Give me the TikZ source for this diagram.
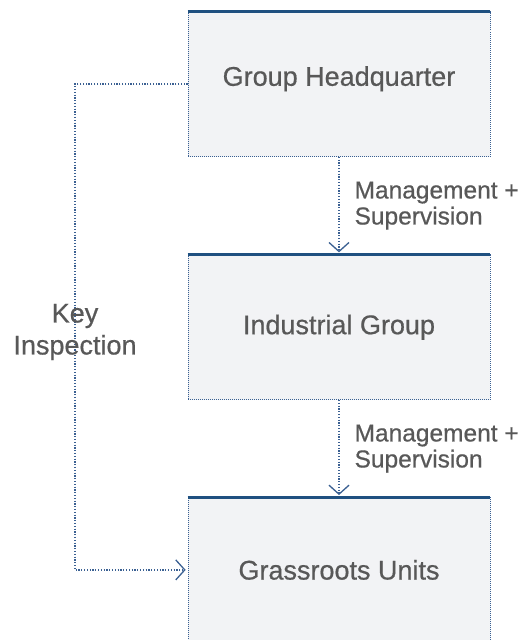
\documentclass[tikz,border=0pt]{standalone}
\usepackage{fontspec}
\setmainfont{Liberation Sans}[FakeBold=0.6]
\usetikzlibrary{arrows.meta, positioning}
\definecolor{org-bar}{RGB}{31,80,128}
\definecolor{org-line}{RGB}{58,96,146}
\definecolor{org-fill}{RGB}{242,243,245}
\definecolor{org-text}{RGB}{88,88,88}

\begin{document}
\begin{tikzpicture}[
    x=1pt, y=-1pt,
    unit/.style={rectangle, draw=org-line, line width=0.7pt, dash pattern=on 1pt off 1pt, fill=org-fill, minimum width=302pt, minimum height=145pt, inner sep=0pt, text=org-text, font=\fontsize{27}{32}\selectfont},
    topbar/.style={draw=org-bar, line width=3pt},
    link/.style={draw=org-line, line width=1.2pt, dash pattern=on 1.2pt off 1.6pt},
    arrow/.style={link, -{Straight Barb[length=9pt, width=20pt, line width=1.3pt]}, shorten >=2pt},
    tag/.style={text=org-text, inner sep=0pt, font=\fontsize{24.5}{26}\selectfont}
]
\useasboundingbox (0,0) rectangle (524,640);
\clip (0,0) rectangle (524,640);

% Units
\node[unit] (hq) at (339,84) {\raisebox{16pt}{Group Headquarter}};
\node[unit, below=97.5pt of hq] (ig) {Industrial Group};
\node[unit, below=97pt of ig] (gu) {Grassroots Units};
\draw[topbar] (hq.north west) -- (hq.north east);
\draw[topbar] (ig.north west) -- (ig.north east);
\draw[topbar] (gu.north west) -- (gu.north east);

% Management lines
\draw[arrow] (hq.south) -- (ig.north) node[tag, midway, right=15pt, align=left] {Management +\\Supervision};
\draw[arrow] (ig.south) -- (gu.north) node[tag, midway, right=15pt, align=left] {Management +\\Supervision};

% Key inspection
\coordinate (kink) at (75,84);
\draw[arrow] (hq.west) -- (kink) |- (gu.west);
\node[tag, align=center, font=\fontsize{27}{32}\selectfont] (ki) at (75,332) {Key\\Inspection};

\end{tikzpicture}
\end{document}
